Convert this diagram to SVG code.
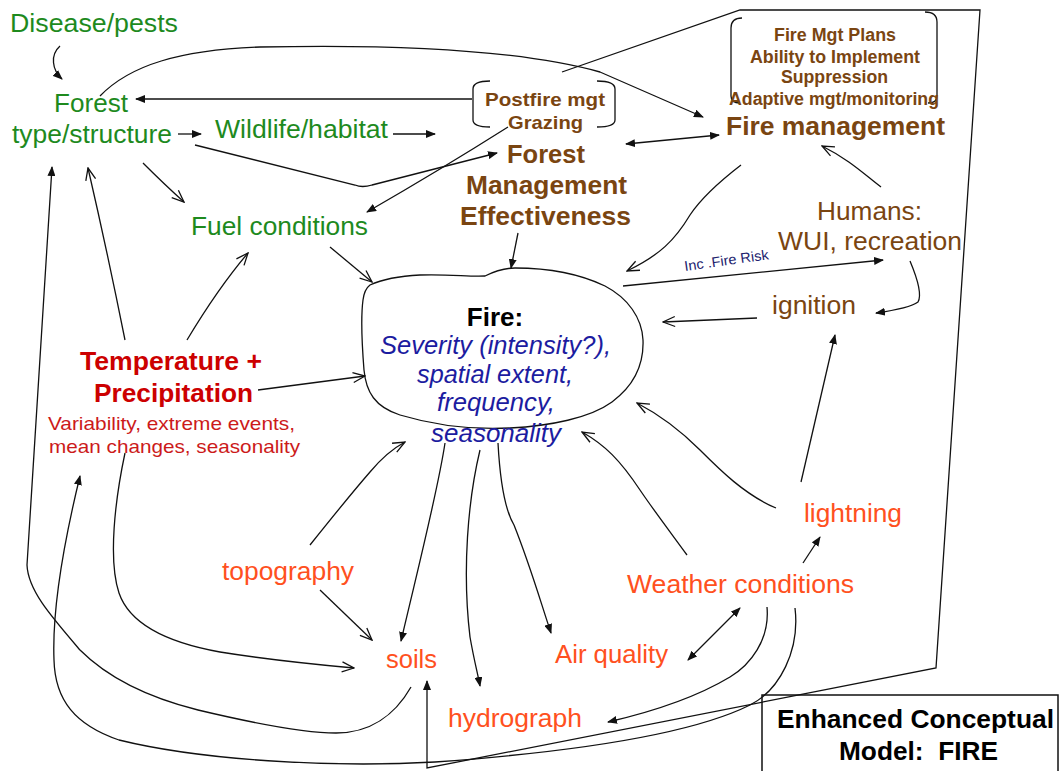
<svg xmlns="http://www.w3.org/2000/svg" width="1060" height="771" viewBox="0 0 1060 771">
<style>
text{font-family:"Liberation Sans",Arial,sans-serif}
.g{fill:#1e8a1e;font-size:25px}
.b{fill:#7a4511;font-weight:bold}
.h{fill:#7a4511;font-size:26px}
.r{fill:#cc0000;font-weight:bold;font-size:26px}
.rs{fill:#cc1a1a;font-size:19px}
.n{fill:#1c1ca0;font-style:italic;font-size:25px}
.o{fill:#ff5020;font-size:26px}
.k{fill:#000;font-weight:bold}
.c{fill:none;stroke:#111;stroke-width:1.3}
.f{marker-end:url(#af)}
.fs{marker-start:url(#af)}
.a{marker-end:url(#ao)}
</style>
<defs>
<marker id="af" viewBox="0 0 10 8" refX="9" refY="4" markerWidth="10" markerHeight="8" markerUnits="userSpaceOnUse" orient="auto-start-reverse"><path d="M0,0 L10,4 L0,8 Z" fill="#111"/></marker>
<marker id="ao" viewBox="0 0 14 12" refX="13" refY="6" markerWidth="14" markerHeight="12" markerUnits="userSpaceOnUse" orient="auto"><path d="M1,1 L13,6 L1,11" fill="none" stroke="#111" stroke-width="1.3"/></marker>
</defs>
<rect width="1060" height="771" fill="#fff"/>

<g id="connectors">
<path class="c f" d="M60,46 C50,55 52,70 62,79"/>
<path class="c f" d="M472,99 L136,99"/>
<path class="c f" d="M178,134 L201,134"/>
<path class="c f" d="M393,134 L435,134"/>
<path class="c f" d="M195,145 L355,185 Q362,188 372,185 L497,153"/>
<path class="c f" d="M100,96 C130,65 180,50 260,47 C400,44 520,50 600,72 L703,117"/>
<path class="c f" d="M562,72 L740,10 L980,10 L936,668 L427,768 L427,681"/>
<path class="c f fs" d="M626,144 L719,135"/>
<path class="c f" d="M508,127 Q440,170 367,212"/>
<path class="c a" d="M143,163 Q165,185 184,202"/>
<path class="c a" d="M330,247 L372,282"/>
<path class="c f" d="M518,233 L511,268"/>
<path class="c a" d="M741,165 C715,185 700,200 690,215 C675,240 660,255 627,271"/>
<path class="c f" d="M623,286 L883,260"/>
<path class="c a" d="M881,187 C865,175 850,160 822,146"/>
<path class="c f" d="M910,261 C918,280 922,295 918,302 C910,308 890,311 876,313"/>
<path class="c a" d="M757,318 L663,322"/>
<path class="c f" d="M801,482 L835,335"/>
<path class="c a" d="M776,508 C745,495 720,470 700,450 C680,430 660,415 637,403"/>
<path class="c a" d="M687,555 C665,525 650,505 640,490 C620,460 605,445 582,432"/>
<path class="c f" d="M803,563 L820,537"/>
<path class="c f fs" d="M740,608 L688,660"/>
<path class="c f" d="M767,607 C770,640 750,665 730,677 C700,695 660,710 608,722"/>
<path class="c f" d="M795,608 C800,650 780,690 750,705 C700,730 600,750 435,762 C330,768 200,760 119,740 C75,725 55,700 54,660 C52,610 62,550 80,476"/>
<path class="c f" d="M411,687 C395,715 370,733 336,733 C300,733 240,720 198,710 C150,698 110,680 80,650 C50,615 28,590 27,565 L52,167"/>
<path class="c a" d="M125,340 C115,290 100,220 88,168"/>
<path class="c a" d="M187,340 C205,310 225,280 248,253"/>
<path class="c a" d="M258,390 L365,376"/>
<path class="c a" d="M125,453 C115,500 108,560 119,593 C130,625 170,643 220,652 C270,660 310,664 354,668"/>
<path class="c a" d="M310,545 C330,520 350,495 370,472 C380,460 390,450 405,442"/>
<path class="c a" d="M320,590 L372,640"/>
<path class="c f" d="M445,443 C438,490 420,560 401,641"/>
<path class="c f" d="M480,450 C468,500 462,570 470,637 C474,660 478,675 480,686"/>
<path class="c f" d="M498,443 C500,480 505,510 514,525 C530,565 540,600 551,633"/>
<text x="685" y="271" transform="rotate(-8 685 271)" font-size="14" fill="#22226e" textLength="85" lengthAdjust="spacingAndGlyphs">Inc .Fire Risk</text>
</g>

<g id="disease"><text class="g" x="10" y="32" textLength="168" lengthAdjust="spacingAndGlyphs">Disease/pests</text></g>
<g id="forest-type"><text class="g" x="54" y="112" textLength="74" lengthAdjust="spacingAndGlyphs">Forest</text><text class="g" x="12" y="143" textLength="160" lengthAdjust="spacingAndGlyphs">type/structure</text></g>
<g id="wildlife"><text class="g" x="215" y="138" textLength="173" lengthAdjust="spacingAndGlyphs">Wildlife/habitat</text></g>
<g id="fuel"><text class="g" x="191" y="235" textLength="177" lengthAdjust="spacingAndGlyphs">Fuel conditions</text></g>

<g id="postfire">
<path class="c" d="M490,81 Q473,81 473,89 L473,120 Q473,127 490,127"/>
<path class="c" d="M597,81 Q615,81 615,89 L615,120 Q615,127 597,127"/>
<text class="b" x="485" y="106" font-size="19" textLength="120" lengthAdjust="spacingAndGlyphs">Postfire mgt</text>
<text class="b" x="508" y="129" font-size="19" textLength="75" lengthAdjust="spacingAndGlyphs">Grazing</text>
</g>
<g id="fme">
<text class="b" x="507" y="163" font-size="26" textLength="78" lengthAdjust="spacingAndGlyphs">Forest</text>
<text class="b" x="466" y="194" font-size="26" textLength="161" lengthAdjust="spacingAndGlyphs">Management</text>
<text class="b" x="460" y="225" font-size="26" textLength="171" lengthAdjust="spacingAndGlyphs">Effectiveness</text>
</g>
<g id="fire-mgt">
<path class="c" d="M742,18 Q731,18 731,28 L731,96 Q731,103 740,103"/>
<path class="c" d="M925,12 Q937,12 937,22 L937,96 Q937,103 928,103"/>
<text class="b" x="774" y="41" font-size="17.5" textLength="122" lengthAdjust="spacingAndGlyphs">Fire Mgt Plans</text>
<text class="b" x="750" y="63" font-size="17.5" textLength="170" lengthAdjust="spacingAndGlyphs">Ability to Implement</text>
<text class="b" x="781" y="83" font-size="17.5" textLength="107" lengthAdjust="spacingAndGlyphs">Suppression</text>
<text class="b" x="729" y="105" font-size="17.5" textLength="210" lengthAdjust="spacingAndGlyphs">Adaptive mgt/monitoring</text>
<text class="b" x="726" y="135" font-size="26" textLength="219" lengthAdjust="spacingAndGlyphs">Fire management</text>
</g>
<g id="humans"><text class="h" x="817" y="220" textLength="105" lengthAdjust="spacingAndGlyphs">Humans:</text><text class="h" x="778" y="250" textLength="184" lengthAdjust="spacingAndGlyphs">WUI, recreation</text></g>
<g id="ignition"><text class="h" x="772" y="314" textLength="84" lengthAdjust="spacingAndGlyphs">ignition</text></g>

<g id="fire">
<path class="c" d="M370,285 C385,278 400,276 420,275 C450,274 470,277 485,276 C495,271 505,268 515,268 C550,268 580,274 605,286 C628,298 642,318 643,340 C644,365 635,385 612,402 C590,418 550,426 510,428 C470,430 430,424 400,415 C375,407 366,392 364,370 C362,345 361,315 363,300 C364,292 366,288 370,285 Z"/>
<text class="k" x="495" y="326" font-size="26" text-anchor="middle">Fire:</text>
<text class="n" x="380" y="354" textLength="231" lengthAdjust="spacingAndGlyphs">Severity (intensity?),</text>
<text class="n" x="417" y="383" textLength="156" lengthAdjust="spacingAndGlyphs">spatial extent,</text>
<text class="n" x="437" y="411" textLength="118" lengthAdjust="spacingAndGlyphs">frequency,</text>
<text class="n" x="431" y="442" textLength="130" lengthAdjust="spacingAndGlyphs">seasonality</text>
</g>

<g id="climate">
<text class="r" x="80" y="370" textLength="182" lengthAdjust="spacingAndGlyphs">Temperature +</text>
<text class="r" x="94" y="402" textLength="159" lengthAdjust="spacingAndGlyphs">Precipitation</text>
<text class="rs" x="48" y="430" textLength="247" lengthAdjust="spacingAndGlyphs">Variability, extreme events,</text>
<text class="rs" x="49" y="453" textLength="251" lengthAdjust="spacingAndGlyphs">mean changes, seasonality</text>
</g>

<g id="topography"><text class="o" x="222" y="580" textLength="132" lengthAdjust="spacingAndGlyphs">topography</text></g>
<g id="soils"><text class="o" x="386" y="668" textLength="51" lengthAdjust="spacingAndGlyphs">soils</text></g>
<g id="air"><text class="o" x="555" y="663" textLength="113" lengthAdjust="spacingAndGlyphs">Air quality</text></g>
<g id="hydrograph"><text class="o" x="448" y="727" textLength="134" lengthAdjust="spacingAndGlyphs">hydrograph</text></g>
<g id="weather"><text class="o" x="627" y="593" textLength="227" lengthAdjust="spacingAndGlyphs">Weather conditions</text></g>
<g id="lightning"><text class="o" x="804" y="522" textLength="98" lengthAdjust="spacingAndGlyphs">lightning</text></g>

<g id="title">
<rect x="762" y="695" width="296" height="80" fill="none" stroke="#111" stroke-width="1.5"/>
<text class="k" x="777" y="728" font-size="25" textLength="277" lengthAdjust="spacingAndGlyphs">Enhanced Conceptual</text>
<text class="k" x="839" y="760" font-size="25" textLength="159" lengthAdjust="spacingAndGlyphs" xml:space="preserve">Model:  FIRE</text>
</g>
</svg>
